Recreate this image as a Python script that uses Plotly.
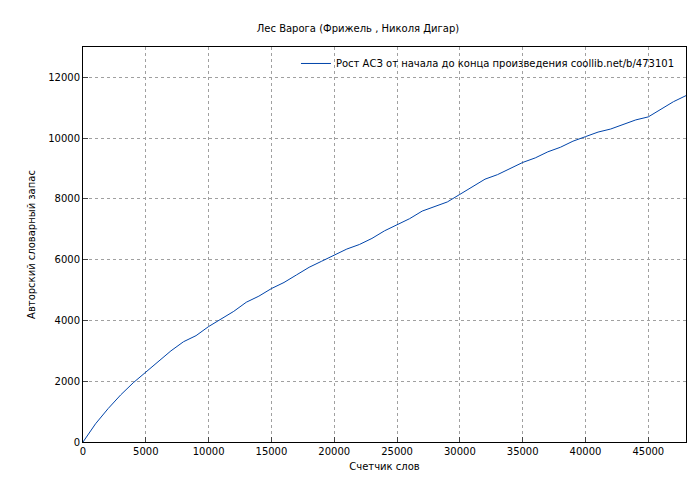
import plotly.graph_objects as go

words = [0,1000,2000,3000,4000,5000,6000,7000,8000,9000,10000,11000,12000,13000,14000,15000,16000,17000,18000,19000,20000,21000,22000,23000,24000,25000,26000,27000,28000,29000,30000,31000,32000,33000,34000,35000,36000,37000,38000,39000,40000,41000,42000,43000,44000,45000,46000,47000,48000]
vocab = [0,600,1100,1550,1950,2300,2650,3000,3300,3500,3800,4050,4300,4600,4800,5050,5250,5500,5750,5950,6150,6350,6500,6700,6950,7150,7350,7600,7750,7900,8150,8400,8650,8800,9000,9200,9350,9550,9700,9900,10050,10200,10300,10450,10600,10700,10950,11200,11400]

fig = go.Figure(go.Scatter(x=words, y=vocab, mode="lines", line=dict(color="#0044aa", width=1),
                           name="Рост АСЗ от начала до конца произведения coollib.net/b/473101"))
ax = dict(showline=True, linecolor="black", mirror=True, ticks="inside", ticklen=5,
          gridcolor="#a0a0a0", griddash="dot", zeroline=False, tickformat="d",
          tickfont=dict(size=10))
fig.update_layout(
    width=700, height=480, paper_bgcolor="white", plot_bgcolor="white",
    font=dict(family="DejaVu Sans", size=10, color="black"),
    title=dict(text="Лес Варога (Фрижель , Николя Дигар)", x=0.5, xanchor="center", y=0.965, font=dict(size=10)),
    margin=dict(l=75, r=22, t=39, b=46, autoexpand=False),
    xaxis=dict(ax, range=[0, 48000], dtick=5000, title=dict(text="Счетчик слов", standoff=6, font=dict(size=10))),
    yaxis=dict(ax, range=[0, 13000], dtick=2000, title=dict(text="Авторский словарный запас", standoff=10, font=dict(size=10))),
    showlegend=True,
    legend=dict(x=0.99, y=0.995, xanchor="right", yanchor="top", bgcolor="rgba(0,0,0,0)", font=dict(size=10)),
)
fig.write_html("out.html")
